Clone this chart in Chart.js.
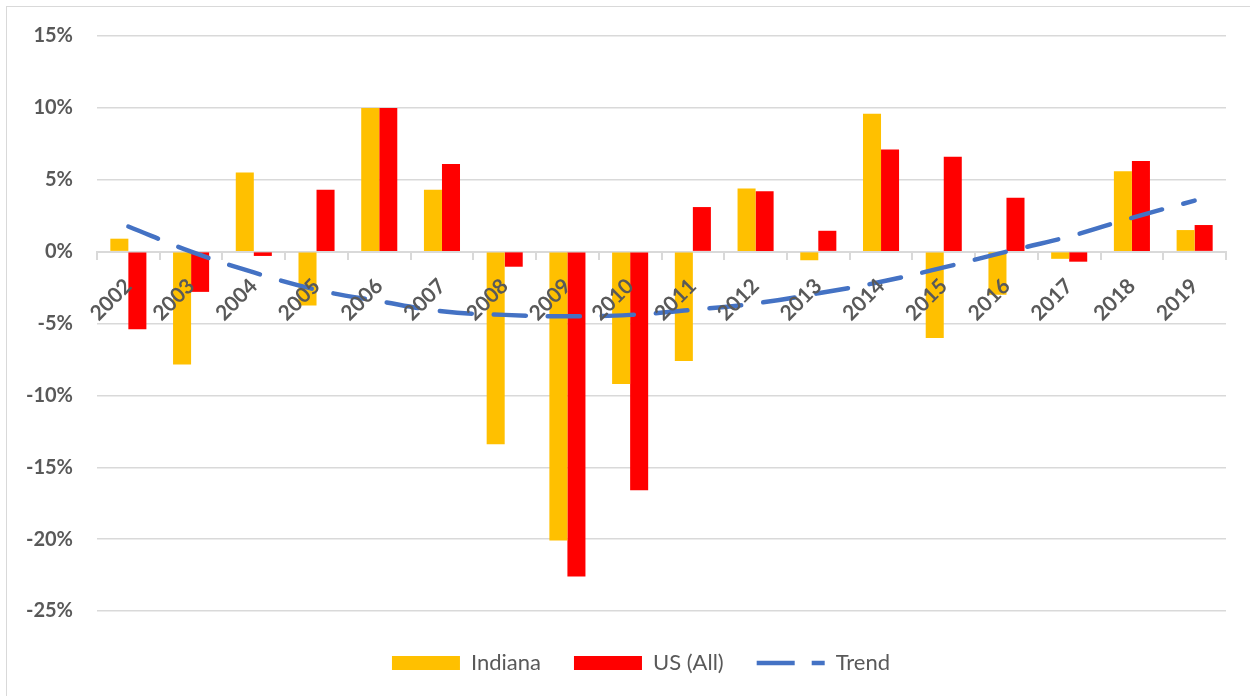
<!DOCTYPE html>
<html>
<head>
<meta charset="utf-8">
<script src="https://cdn.jsdelivr.net/npm/chart.js@4.4.1/dist/chart.umd.min.js"></script>
<style>
  html, body { margin: 0; padding: 0; background: #fff; }
  #wrap { position: relative; width: 1250px; height: 696px; }
  #frame { position: absolute; left: 6px; top: 6px; width: 1260px; height: 700px;
           border: 1.5px solid #d9d9d9; pointer-events: none; }
</style>
</head>
<body>
<div id="wrap">
  <canvas id="growthChart" width="1250" height="696"></canvas>
  <div id="frame"></div>
</div>
<script>
// years on the category axis
var years = ["2002", "2003", "2004", "2005", "2006", "2007", "2008", "2009", "2010",
             "2011", "2012", "2013", "2014", "2015", "2016", "2017", "2018", "2019"];

// annual change, percent
var indiana = [0.9, -7.85, 5.5, -3.75, 10.0, 4.3, -13.4, -20.1, -9.2,
               -7.6, 4.4, -0.6, 9.6, -6.0, -3.0, -0.5, 5.6, 1.5];
var usAll = [-5.4, -2.8, -0.3, 4.3, 10.0, 6.1, -1.05, -22.6, -16.6,
             3.1, 4.2, 1.45, 7.1, 6.6, 3.75, -0.7, 6.3, 1.85];
// trend line values at each year
var trend = [1.75, 0.0, -1.45, -2.65, -3.45, -4.15, -4.4, -4.5, -4.4,
             -4.05, -3.6, -2.9, -2.1, -1.1, 0.0, 1.05, 2.35, 3.55];

var yTicks = [-25, -20, -15, -10, -5, 0, 5, 10, 15];

var labelGray = "#595959";
var gridGray = "#d9d9d9";

// nudge the legend row to where the original sits
var legendNudge = {
  id: "legendNudge",
  afterLayout: function (chart) {
    var lg = chart.legend;
    lg.top += 8; lg.bottom += 8;
    lg.left += 28; lg.right += 28;
  },
};

var ctx = document.getElementById("growthChart").getContext("2d");

var myChart = new Chart(ctx, {
  type: "bar",
  data: {
    labels: years,
    datasets: [
      {
        label: "Indiana",
        data: indiana,
        backgroundColor: "#FFC000",
        order: 1,
      },
      {
        label: "US (All)",
        data: usAll,
        backgroundColor: "#FF0000",
        order: 1,
      },
      {
        type: "line",
        label: "Trend",
        data: trend,
        borderColor: "#4472C4",
        backgroundColor: "#4472C4",
        borderWidth: 4.5,
        borderDash: [32, 22],
        borderCapStyle: "round",
        pointRadius: 0,
        tension: 0.4,
        fill: false,
        order: 0,
      },
    ],
  },
  plugins: [legendNudge],
  options: {
    responsive: false,
    animation: false,
    layout: {
      padding: { top: 36, right: 24, bottom: 20, left: 0 },
    },
    datasets: {
      bar: { categoryPercentage: 0.575, barPercentage: 1.0 },
    },
    scales: {
      x: {
        position: { y: 0 },
        grid: {
          drawOnChartArea: false,
          drawTicks: true,
          tickLength: 7,
          color: gridGray,
          lineWidth: 2,
        },
        border: { display: true, color: gridGray, width: 2 },
        ticks: {
          z: 1, // year labels sit on top of the bars
          autoSkip: false,
          minRotation: 45,
          maxRotation: 45,
          padding: 15,
          color: labelGray,
          font: { family: "Lato", size: 21, weight: "bold" },
        },
      },
      y: {
        min: -25,
        max: 15,
        afterFit: function (scale) {
          scale.width = 97;
        },
        afterBuildTicks: function (scale) {
          scale.ticks = yTicks.map(function (v) { return { value: v }; });
        },
        grid: { color: gridGray, lineWidth: 1.5, drawTicks: false },
        border: { display: false },
        ticks: {
          padding: 24,
          color: labelGray,
          font: { family: "Lato", size: 20, weight: "bold" },
          callback: function (v) { return v + "%"; },
        },
      },
    },
    plugins: {
      tooltip: { enabled: false },
      legend: {
        position: "bottom",
        labels: {
          usePointStyle: true,
          pointStyleWidth: 68,
          boxHeight: 14,
          padding: 33,
          color: labelGray,
          font: { family: "Lato", size: 22 },
          sort: function (a, b) { return a.datasetIndex - b.datasetIndex; },
          generateLabels: function (chart) {
            var items = Chart.defaults.plugins.legend.labels.generateLabels(chart);
            items.forEach(function (it) {
              if (it.datasetIndex < 2) {
                it.pointStyle = "rect";
                it.lineWidth = 0;
              } else {
                it.pointStyle = "line";
                it.lineDash = [38, 17];
              }
            });
            return items;
          },
        },
      },
    },
  },
});
</script>
</body>
</html>
